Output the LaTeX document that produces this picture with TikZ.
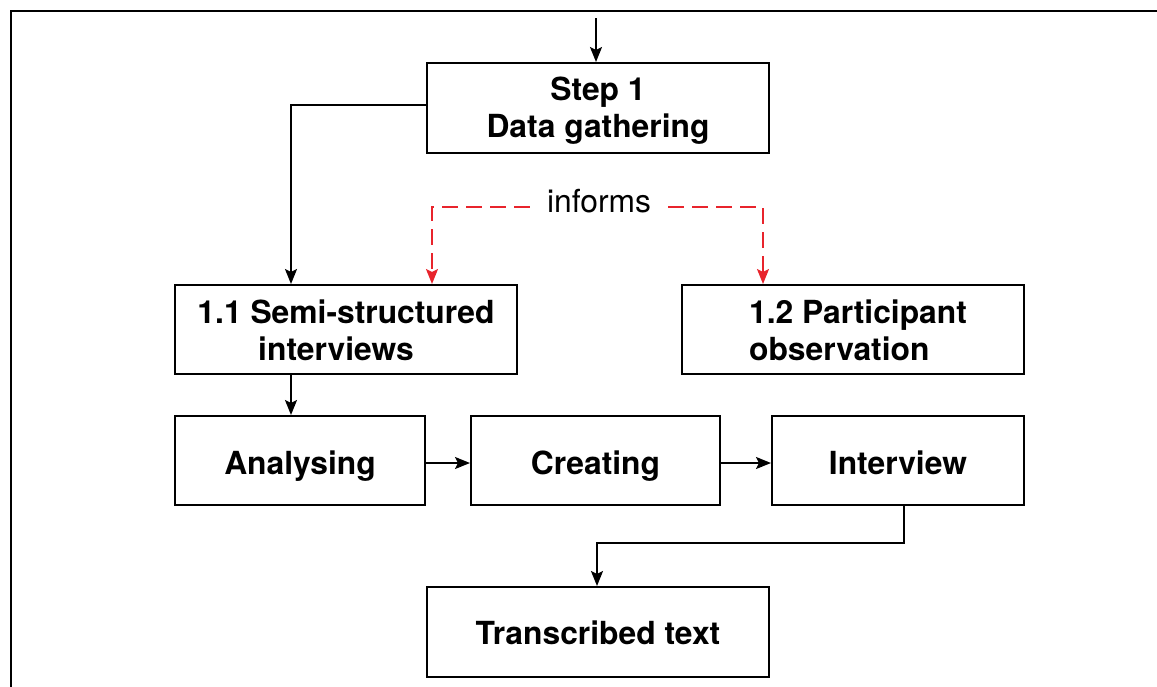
\documentclass[tikz,border=0pt]{standalone}
\usepackage{fontspec}
\setmainfont{TeX Gyre Heros}
\usetikzlibrary{arrows.meta}
\definecolor{informred}{RGB}{232,36,44}
% box text: lines in a tabular, lowered (keeping the box size) so the capitals sit in the middle
\newcommand\boxlines[3][5pt]{\raisebox{-#1}[\height][\depth]{\begin{tabular}{#2}#3\end{tabular}}}
\tikzset{
  stepbox/.style={draw=black, line width=2pt, inner sep=0pt,
    font=\fontsize{31.8}{37}\selectfont\bfseries},
  flow/.style={draw=black, line width=2pt, -{Stealth[length=15pt,width=12pt,inset=3pt]}},
  informs/.style={draw=informred, line width=2pt, dash pattern=on 16pt off 8pt,
    -{Stealth[length=15pt,width=12pt,inset=3pt]}},
}
\begin{document}
\begin{tikzpicture}[x=1pt,y=-1pt]
\path[use as bounding box] (0,0) rectangle (1157,686);
\clip (0,0) rectangle (1157,686);
% outer frame
\draw[line width=2.6pt] (11,720) -- (11,11) -- (1200,11);

% boxes
\node[stepbox, minimum width=342pt, minimum height=90pt] (step) at (598,108)
  {\boxlines[4pt]{@{}c@{}}{Step 1\\Data gathering}};
\node[stepbox, minimum width=342pt, minimum height=89pt] (semi) at (346,329.5)
  {\boxlines{@{}c@{}}{1.1 Semi-structured\\interviews\kern20pt}};
\node[stepbox, minimum width=342pt, minimum height=89pt] (part) at (853,329.5)
  {\boxlines{@{\hspace{10pt}}l@{}}{1.2 Participant\\observation}};
\node[stepbox, minimum width=250pt, minimum height=89pt] (anal) at (300,460.5)
  {\boxlines[6.5pt]{@{}c@{}}{Analysing}};
\node[stepbox, minimum width=249pt, minimum height=89pt] (crea) at (595.5,460.5)
  {\boxlines[6.5pt]{@{}c@{}}{Creating}};
\node[stepbox, minimum width=252pt, minimum height=89pt] (intv) at (898,460.5)
  {\boxlines[6.5pt]{@{}c@{}}{Interview}};
\node[stepbox, minimum width=342pt, minimum height=90pt] (trans) at (598,632)
  {\boxlines[5pt]{@{}c@{}}{Transcribed text}};

\node[font=\fontsize{31.8}{37}\selectfont, inner sep=0pt] (inf) at (599,201) {informs};

% incoming arrow
\coordinate (entry) at (596,18);
\draw[flow] (entry) -- (entry |- step.north);

% main flow
\draw[flow] ([yshift=3pt]step.west) -| ([xshift=-55pt]semi.north);
\draw[flow] ([xshift=-55pt]semi.south) -- ([xshift=-9pt]anal.north);
\draw[flow] ([yshift=-2.5pt]anal.east) -- ([yshift=-2.5pt]crea.west);
\draw[flow] ([yshift=-2.5pt]crea.east) -- ([yshift=-2.5pt]intv.west);
\coordinate (bend) at (904,543);
\draw[flow] ([xshift=6pt]intv.south) -- (bend) -| ([xshift=-1pt]trans.north);

% informs links
\draw[informs] ([xshift=-17pt,yshift=-6pt]inf.west) -| ([xshift=86pt]semi.north);
\draw[informs] ([xshift=17pt,yshift=-6pt]inf.east) -| ([xshift=-90pt]part.north);
\end{tikzpicture}
\end{document}
